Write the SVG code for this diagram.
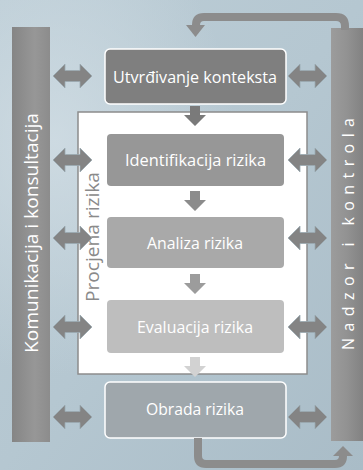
<svg xmlns="http://www.w3.org/2000/svg" xmlns:xlink="http://www.w3.org/1999/xlink" width="363" height="470" viewBox="0 0 363 470">
  <defs>
    <linearGradient id="bg" x1="0" y1="0" x2="1" y2="1">
      <stop offset="0" stop-color="#bccdd6"/>
      <stop offset="0.5" stop-color="#b5c7d1"/>
      <stop offset="1" stop-color="#a9bcc7"/>
    </linearGradient>
    <radialGradient id="glow" cx="0.15" cy="0.3" r="0.5">
      <stop offset="0" stop-color="#d2dee5" stop-opacity="0.8"/>
      <stop offset="1" stop-color="#d2dee5" stop-opacity="0"/>
    </radialGradient>
    <linearGradient id="barL" x1="0" y1="0" x2="1" y2="0">
      <stop offset="0" stop-color="#858585"/>
      <stop offset="0.6" stop-color="#979797"/>
      <stop offset="1" stop-color="#8c8c8c"/>
    </linearGradient>
    <linearGradient id="barR" x1="0" y1="0" x2="1" y2="0">
      <stop offset="0" stop-color="#9c9c9c"/>
      <stop offset="0.5" stop-color="#929292"/>
      <stop offset="1" stop-color="#828282"/>
    </linearGradient>
    <!-- two-headed connector between a bar and a step -->
    <path id="dbl" d="M-19.5,0 L-7.5,-12 L-7.5,-5.5 L7.5,-5.5 L7.5,-12 L19.5,0 L7.5,12 L7.5,5.5 L-7.5,5.5 L-7.5,12 Z"/>
    <!-- downward step arrow -->
    <path id="down" d="M-5,0 L5,0 L5,9 L11,9 L0,20 L-11,9 L-5,9 Z"/>
    <style>
      .lbl { font-family: "Open Sans", "Liberation Sans", sans-serif; font-size: 16.5px; fill: #ffffff; text-anchor: middle; }
      .bar { font-family: "Open Sans", "Liberation Sans", sans-serif; font-size: 18px; fill: #ffffff; text-anchor: middle; }
      .dbl { fill: #848484; stroke: #9aa9b1; stroke-width: 0.8; }
      .loop { fill: none; stroke: #8c8c8c; stroke-width: 8; stroke-linejoin: round; }
    </style>
  </defs>

  <!-- background -->
  <rect x="0" y="0" width="363" height="470" fill="url(#bg)"/>
  <rect x="0" y="0" width="363" height="470" fill="url(#glow)"/>

  <!-- side bars -->
  <g id="bar-komunikacija">
    <rect x="12" y="27" width="38" height="415" fill="url(#barL)"/>
    <text class="bar" transform="translate(37.5,233) rotate(-90)" textLength="240" lengthAdjust="spacingAndGlyphs">Komunikacija i konsultacija</text>
  </g>
  <g id="bar-nadzor">
    <rect x="331" y="28" width="32" height="413" fill="url(#barR)"/>
    <text class="bar" font-size="16" style="font-size:16px" transform="translate(354,234) rotate(-90)" textLength="232" lengthAdjust="spacing">Nadzor i kontrola</text>
  </g>

  <!-- risk assessment frame -->
  <g id="procjena">
    <rect x="78" y="112" width="229" height="262" fill="#ffffff" stroke="#8c8c8c" stroke-width="1.5"/>
    <text transform="translate(99,237) rotate(-90)" font-family="Open Sans, Liberation Sans, sans-serif" font-size="18" fill="#8a8a8a" text-anchor="middle" textLength="130" lengthAdjust="spacingAndGlyphs">Procjena rizika</text>
  </g>

  <!-- steps -->
  <g id="kontekst">
    <rect x="105" y="49" width="181" height="55" rx="5" fill="#7f7f7f" stroke="#ffffff" stroke-width="1.5"/>
    <text class="lbl" x="195" y="83" textLength="164" lengthAdjust="spacingAndGlyphs">Utvrđivanje konteksta</text>
  </g>
  <g id="identifikacija">
    <rect x="107" y="134" width="177" height="52" rx="4" fill="#979797"/>
    <text class="lbl" x="195.5" y="166" textLength="141" lengthAdjust="spacingAndGlyphs">Identifikacija rizika</text>
  </g>
  <g id="analiza">
    <rect x="107" y="217" width="177" height="51" rx="4" fill="#a9a9a9"/>
    <text class="lbl" x="195" y="249" textLength="96" lengthAdjust="spacingAndGlyphs">Analiza rizika</text>
  </g>
  <g id="evaluacija">
    <rect x="107" y="300" width="177" height="53" rx="4" fill="#bebebe"/>
    <text class="lbl" x="195" y="333" textLength="116" lengthAdjust="spacingAndGlyphs">Evaluacija rizika</text>
  </g>
  <g id="obrada">
    <rect x="105" y="382" width="181" height="56" rx="5" fill="#9fa7ac" stroke="#ffffff" stroke-width="1.5"/>
    <text class="lbl" x="195" y="415" textLength="98" lengthAdjust="spacingAndGlyphs">Obrada rizika</text>
  </g>

  <!-- connectors -->
  <g id="connectors">
    <use xlink:href="#down" href="#down" transform="translate(195,106)" fill="#7a7a7a"/>
    <use xlink:href="#down" href="#down" transform="translate(195,191)" fill="#8c8c8c"/>
    <use xlink:href="#down" href="#down" transform="translate(195,274)" fill="#9c9c9c"/>
    <use xlink:href="#down" href="#down" transform="translate(195,357)" fill="#d2d2d2"/>

    <use class="dbl" xlink:href="#dbl" href="#dbl" transform="translate(72.5,76)"/>
    <use class="dbl" xlink:href="#dbl" href="#dbl" transform="translate(72.5,160)"/>
    <use class="dbl" xlink:href="#dbl" href="#dbl" transform="translate(72.5,238)"/>
    <use class="dbl" xlink:href="#dbl" href="#dbl" transform="translate(72.5,327)"/>
    <use class="dbl" xlink:href="#dbl" href="#dbl" transform="translate(72.5,417)"/>
    <use class="dbl" xlink:href="#dbl" href="#dbl" transform="translate(307.5,76)"/>
    <use class="dbl" xlink:href="#dbl" href="#dbl" transform="translate(307.5,160)"/>
    <use class="dbl" xlink:href="#dbl" href="#dbl" transform="translate(307.5,238)"/>
    <use class="dbl" xlink:href="#dbl" href="#dbl" transform="translate(307.5,327)"/>
    <use class="dbl" xlink:href="#dbl" href="#dbl" transform="translate(307.5,417)"/>

    <!-- feedback loop from monitoring back to context -->
    <path class="loop" d="M345,30 L345,26 Q345,17 336,17 L204,17 Q196,17 196,25 L196,26"/>
    <polygon points="186,25 205,25 195.5,37" fill="#8c8c8c"/>
    <!-- treatment output to monitoring -->
    <path class="loop" d="M198,438 L198,456 Q198,464 206,464 L335,464 Q343,464 343,456 L343,455"/>
    <polygon points="333,456 353,456 343,446" fill="#8c8c8c"/>
  </g>
</svg>
